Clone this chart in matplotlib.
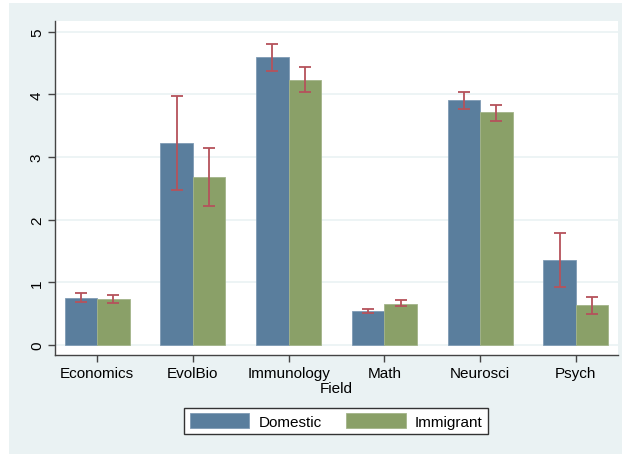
import numpy as np
import matplotlib.pyplot as plt
from matplotlib.patches import Rectangle

plt.rcParams['font.family'] = ['Liberation Sans', 'DejaVu Sans']

fields = ["Economics", "EvolBio", "Immunology", "Math", "Neurosci", "Psych"]
domestic = [0.75, 3.23, 4.59, 0.55, 3.91, 1.36]
domestic_lo = [0.68, 2.48, 4.37, 0.51, 3.76, 0.93]
domestic_hi = [0.83, 3.98, 4.80, 0.58, 4.04, 1.78]
immigrant = [0.73, 2.68, 4.23, 0.66, 3.71, 0.63]
immigrant_lo = [0.67, 2.22, 4.03, 0.62, 3.58, 0.50]
immigrant_hi = [0.80, 3.14, 4.43, 0.71, 3.83, 0.76]

bg = '#EAF2F3'
blue = '#5A7E9D'
green = '#8AA068'
err_col = '#B5525B'

fig = plt.figure(figsize=(6.22, 4.56), dpi=100)
fig.patch.set_facecolor('white')
fig.patches.append(Rectangle((9 / 622, 1 / 456), 613 / 622, 451 / 456,
                             transform=fig.transFigure, facecolor=bg,
                             edgecolor='none', zorder=-10))

ax = fig.add_axes([55 / 622, 1 - 356 / 456, 563 / 622, 334 / 456])
ax.set_facecolor('white')

x = np.arange(len(fields))
w = 0.34
d = np.array(domestic)
im = np.array(immigrant)

ax.bar(x - w / 2, d, w, color=blue, edgecolor='#7F9BB4', linewidth=0.6, zorder=2)
ax.bar(x + w / 2, im, w, color=green, edgecolor='#A3B48A', linewidth=0.6, zorder=2)

ax.errorbar(x - w / 2, d,
            yerr=[d - np.array(domestic_lo), np.array(domestic_hi) - d],
            fmt='none', ecolor=err_col, elinewidth=1.3, capsize=4, capthick=1.3, zorder=3)
ax.errorbar(x + w / 2, im,
            yerr=[im - np.array(immigrant_lo), np.array(immigrant_hi) - im],
            fmt='none', ecolor=err_col, elinewidth=1.3, capsize=4, capthick=1.3, zorder=3)

ax.set_xlim(-0.44, 5.44)
ax.set_ylim(-0.16, 5.17)
ax.set_yticks(range(6))
ax.set_yticklabels([str(i) for i in range(6)], rotation=90, va='center')
ax.set_xticks(x)
ax.set_xticklabels(fields)
ax.tick_params(labelsize=11, length=5, width=1, color='#444444', pad=3)
ax.yaxis.grid(True, color=bg, linewidth=1.2, zorder=0)
ax.set_axisbelow(True)

for s in ['top', 'right']:
    ax.spines[s].set_visible(False)
for s in ['left', 'bottom']:
    ax.spines[s].set_color('#444444')
    ax.spines[s].set_linewidth(1)

ax.set_xlabel("Field", fontsize=11, labelpad=1)

h1 = Rectangle((0, 0), 1, 1, facecolor=blue, edgecolor='#7F9BB4', linewidth=0.6)
h2 = Rectangle((0, 0), 1, 1, facecolor=green, edgecolor='#A3B48A', linewidth=0.6)
leg = fig.legend([h1, h2], ["Domestic", "Immigrant"], ncol=2,
                 loc='center', bbox_to_anchor=(336 / 622, 1 - 422 / 456),
                 fontsize=11, handlelength=3.9, handleheight=1.1,
                 handletextpad=0.6, columnspacing=1.6, fancybox=False,
                 framealpha=1, borderpad=0.35)
leg.get_frame().set_edgecolor('#333333')
leg.get_frame().set_linewidth(1)

fig.savefig("out.png", dpi=100, facecolor=fig.get_facecolor())
